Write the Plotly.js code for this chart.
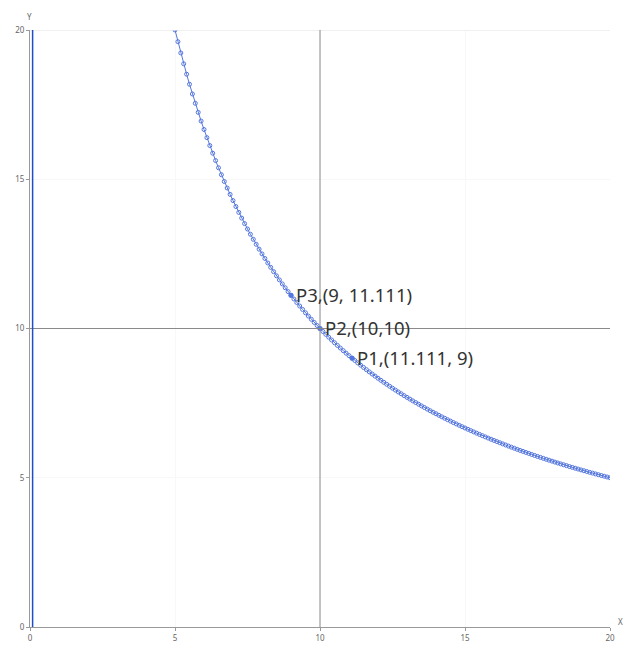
<!DOCTYPE html>
<html>
<head>
<meta charset="utf-8">
<script src="https://cdn.plot.ly/plotly-3.0.1.min.js"></script>
<style>html,body{margin:0;padding:0;background:#fff;}#chart{width:638px;height:655px;}</style>
</head>
<body>
<div id="chart"></div>
<script>
const curveX = [5,5.1,5.2,5.3,5.4,5.5,5.6,5.7,5.8,5.9,6,6.1,6.2,6.3,6.4,6.5,6.6,6.7,6.8,6.9,7,7.1,7.2,7.3,7.4,7.5,7.6,7.7,7.8,7.9,8,8.1,8.2,8.3,8.4,8.5,8.6,8.7,8.8,8.9,9,9.1,9.2,9.3,9.4,9.5,9.6,9.7,9.8,9.9,10,10.1,10.2,10.3,10.4,10.5,10.6,10.7,10.8,10.9,11,11.1,11.2,11.3,11.4,11.5,11.6,11.7,11.8,11.9,12,12.1,12.2,12.3,12.4,12.5,12.6,12.7,12.8,12.9,13,13.1,13.2,13.3,13.4,13.5,13.6,13.7,13.8,13.9,14,14.1,14.2,14.3,14.4,14.5,14.6,14.7,14.8,14.9,15,15.1,15.2,15.3,15.4,15.5,15.6,15.7,15.8,15.9,16,16.1,16.2,16.3,16.4,16.5,16.6,16.7,16.8,16.9,17,17.1,17.2,17.3,17.4,17.5,17.6,17.7,17.8,17.9,18,18.1,18.2,18.3,18.4,18.5,18.6,18.7,18.8,18.9,19,19.1,19.2,19.3,19.4,19.5,19.6,19.7,19.8,19.9,20];
const curveY = [20,19.608,19.231,18.868,18.519,18.182,17.857,17.544,17.241,16.949,16.667,16.393,16.129,15.873,15.625,15.385,15.152,14.925,14.706,14.493,14.286,14.085,13.889,13.699,13.514,13.333,13.158,12.987,12.821,12.658,12.5,12.346,12.195,12.048,11.905,11.765,11.628,11.494,11.364,11.236,11.111,10.989,10.870,10.753,10.638,10.526,10.417,10.309,10.204,10.101,10,9.901,9.804,9.709,9.615,9.524,9.434,9.346,9.259,9.174,9.091,9.009,8.929,8.850,8.772,8.696,8.621,8.547,8.475,8.403,8.333,8.264,8.197,8.130,8.065,8,7.937,7.874,7.813,7.752,7.692,7.634,7.576,7.519,7.463,7.407,7.353,7.299,7.246,7.194,7.143,7.092,7.042,6.993,6.944,6.897,6.849,6.803,6.757,6.711,6.667,6.623,6.579,6.536,6.494,6.452,6.410,6.369,6.329,6.289,6.25,6.211,6.173,6.135,6.098,6.061,6.024,5.988,5.952,5.917,5.882,5.848,5.814,5.780,5.747,5.714,5.682,5.650,5.618,5.587,5.556,5.525,5.495,5.464,5.435,5.405,5.376,5.348,5.319,5.291,5.263,5.236,5.208,5.181,5.155,5.128,5.102,5.076,5.051,5.025,5];
const pointNames = ["P1", "P2", "P3"];
const pointX = [11.111, 10, 9];
const pointY = [9, 10, 11.111];
const pointLabels = ["P1,(11.111, 9)", "P2,(10,10)", "P3,(9, 11.111)"];
const tickVals = [0, 5, 10, 15, 20];
const crossX = 10, crossY = 10;
const blueLineX = 0.09;

const blue = '#5577dd';
const traces = [
  {x: curveX, y: curveY, type: 'scatter', mode: 'lines+markers',
   line: {color: blue, width: 1},
   marker: {symbol: 'circle-open', size: 4, color: blue, line: {width: 1, color: blue}},
   hoverinfo: 'x+y', showlegend: false},
  {x: pointX, y: pointY, type: 'scatter', mode: 'markers', text: pointNames,
   marker: {size: 5, color: blue}, showlegend: false}
];

const annotations = pointLabels.map((t, i) => ({
  x: pointX[i], y: pointY[i], xref: 'x', yref: 'y', text: t, showarrow: false,
  xanchor: 'left', yanchor: 'middle', xshift: 3, yshift: 1,
  font: {family: 'Noto Sans, Open Sans, sans-serif', size: 18.5, color: '#333'}
}));
annotations.push({x: 0, y: 20, xref: 'x', yref: 'y', text: 'Y', showarrow: false,
  xanchor: 'center', yanchor: 'bottom', yshift: 6, xshift: -1,
  font: {family: 'Noto Sans, sans-serif', size: 8, color: '#666'}});
annotations.push({x: 20, y: 0, xref: 'x', yref: 'y', text: 'X', showarrow: false,
  xanchor: 'left', yanchor: 'bottom', xshift: 6, yshift: -2,
  font: {family: 'Noto Sans, sans-serif', size: 8, color: '#666'}});

const shapes = [
  {type: 'line', xref: 'x', yref: 'y', x0: 0, x1: 20, y0: 20, y1: 20, line: {color: '#e2e2e2', width: 1}},
  {type: 'line', xref: 'x', yref: 'y', x0: crossX, x1: crossX, y0: 0, y1: 20, line: {color: '#8a8a8a', width: 1}},
  {type: 'line', xref: 'x', yref: 'y', x0: 0, x1: 20, y0: crossY, y1: crossY, line: {color: '#8a8a8a', width: 1}},
  {type: 'line', xref: 'x', yref: 'y', x0: blueLineX, x1: blueLineX, y0: 0, y1: 20, line: {color: '#1f4fc8', width: 1.5}}
];

const axisCommon = {
  range: [0, 20], tickvals: tickVals, ticktext: tickVals.map(String),
  showgrid: true, gridcolor: '#f8f8f8', gridwidth: 1,
  zeroline: false, showline: true, linecolor: '#999', linewidth: 1,
  ticks: 'outside', ticklen: 3, tickcolor: '#999',
  tickfont: {family: 'Noto Sans, sans-serif', size: 8, color: '#666'},
  fixedrange: true
};

const layout = {
  width: 638, height: 655,
  margin: {l: 30, r: 28, t: 30, b: 28},
  paper_bgcolor: '#fff', plot_bgcolor: '#fff',
  xaxis: Object.assign({}, axisCommon),
  yaxis: Object.assign({}, axisCommon),
  annotations: annotations,
  shapes: shapes,
  showlegend: false
};

Plotly.newPlot('chart', traces, layout, {displayModeBar: false, staticPlot: true});
</script>
</body>
</html>
